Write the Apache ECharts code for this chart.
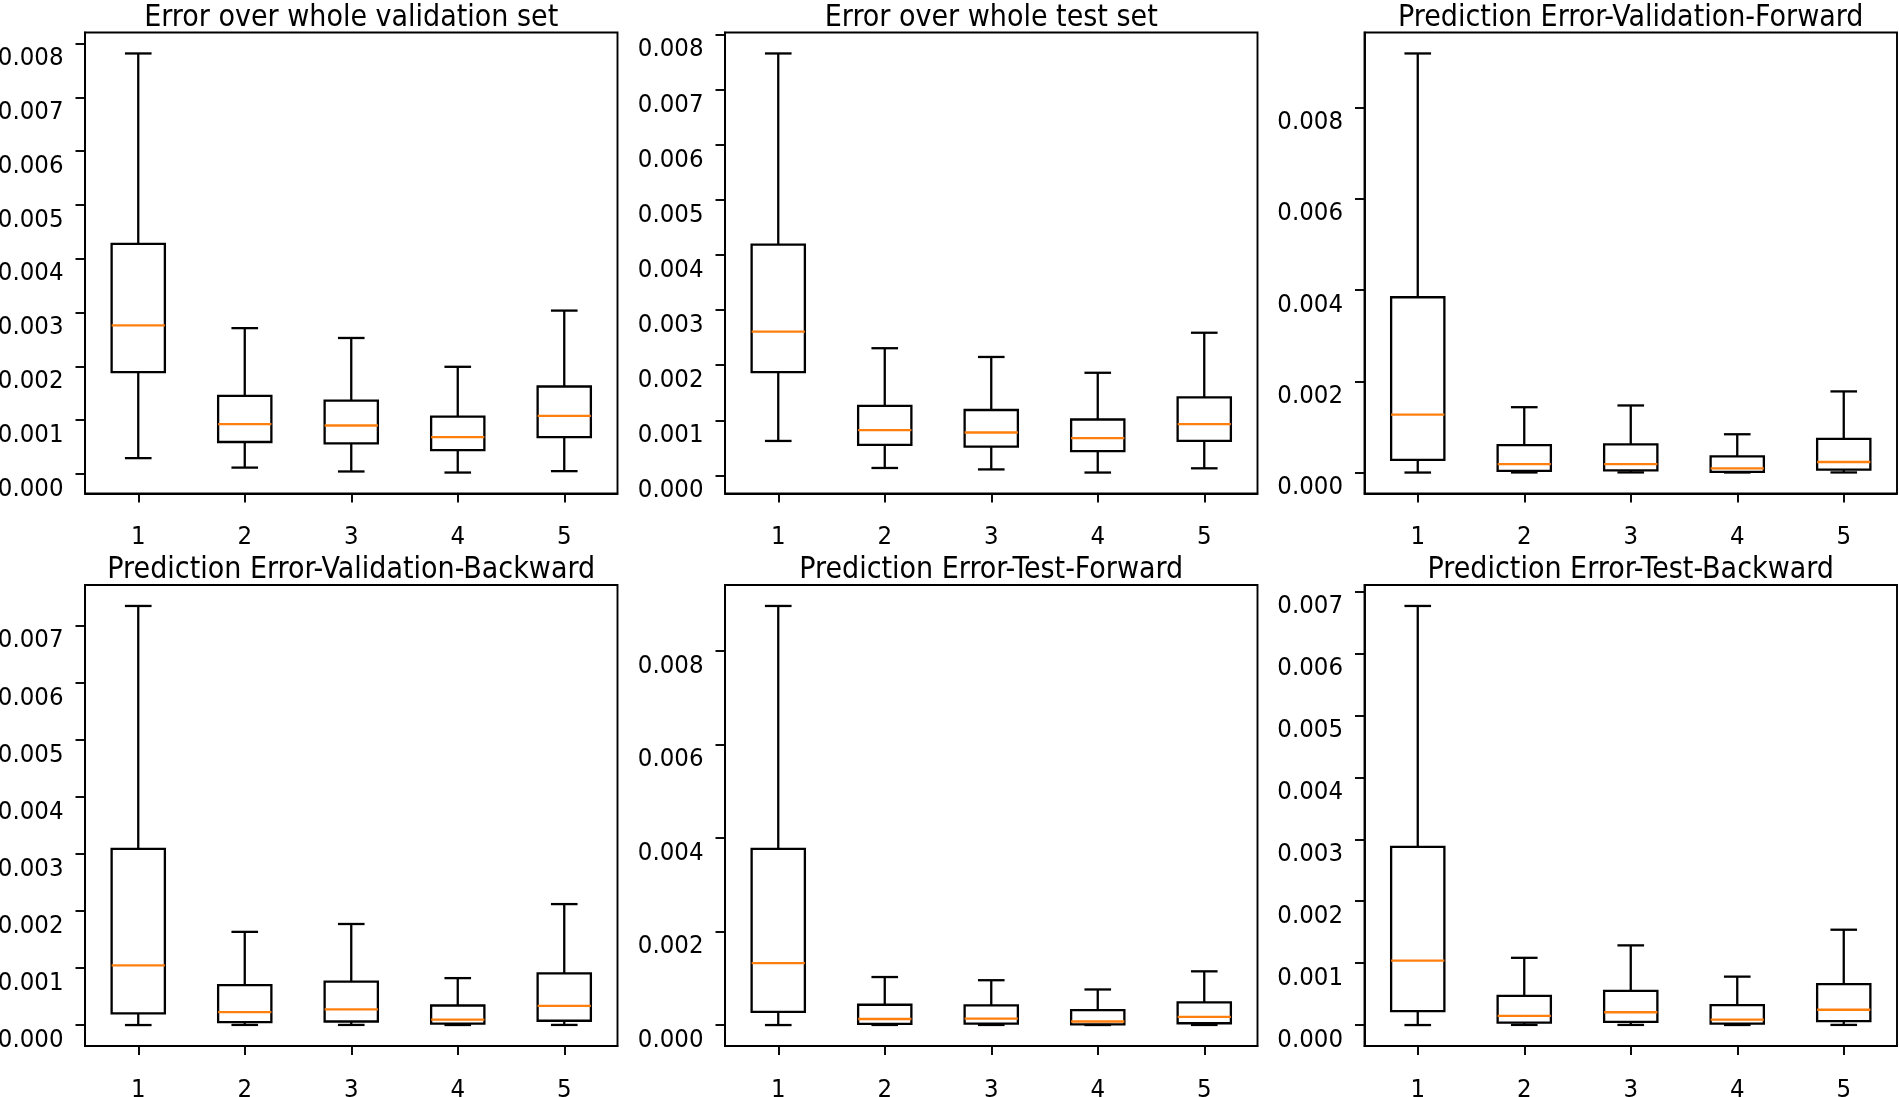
<!DOCTYPE html>
<html>
<head>
<meta charset="utf-8">
<script src="https://cdn.jsdelivr.net/npm/echarts@6/dist/echarts.min.js"></script>
<style>
html,body{margin:0;padding:0;background:#fff;}
#c{width:1899px;height:1097px;}
</style>
</head>
<body>
<div id="c"></div>
<script>
// ---------------- data ----------------
const categories = ['1', '2', '3', '4', '5'];

const panelTitles = [
  'Error over whole validation set',
  'Error over whole test set',
  'Prediction Error-Validation-Forward',
  'Prediction Error-Validation-Backward',
  'Prediction Error-Test-Forward',
  'Prediction Error-Test-Backward'
];

// each box: [whiskerLow, Q1, median, Q3, whiskerHigh]
const boxesValWhole = [
  [0.000294, 0.001894, 0.002763, 0.004278, 0.007818],
  [0.000118, 0.000594, 0.000928, 0.001450, 0.002711],
  [0.000046, 0.000568, 0.000901, 0.001365, 0.002528],
  [0.000026, 0.000444, 0.000686, 0.001065, 0.001992],
  [0.000052, 0.000686, 0.001078, 0.001626, 0.003037]
];
const boxesTestWhole = [
  [0.000625, 0.001876, 0.002609, 0.004191, 0.007662],
  [0.000134, 0.000555, 0.000823, 0.001263, 0.002309],
  [0.000108, 0.000523, 0.000778, 0.001187, 0.002150],
  [0.000051, 0.000440, 0.000676, 0.001014, 0.001863],
  [0.000128, 0.000625, 0.000931, 0.001416, 0.002590]
];
const boxesValForward = [
  [0.000000, 0.000277, 0.001270, 0.003841, 0.009184],
  [0.000002, 0.000038, 0.000185, 0.000600, 0.001432],
  [0.000003, 0.000046, 0.000185, 0.000616, 0.001470],
  [0.000001, 0.000015, 0.000092, 0.000354, 0.000839],
  [0.000002, 0.000062, 0.000231, 0.000739, 0.001778]
];
const boxesValBackward = [
  [0.000000, 0.000206, 0.001048, 0.003088, 0.007349],
  [0.000002, 0.000050, 0.000225, 0.000699, 0.001634],
  [0.000002, 0.000062, 0.000274, 0.000761, 0.001772],
  [0.000001, 0.000025, 0.000094, 0.000343, 0.000823],
  [0.000002, 0.000075, 0.000337, 0.000905, 0.002121]
];
const boxesTestForward = [
  [0.000000, 0.000282, 0.001324, 0.003767, 0.008965],
  [0.000002, 0.000023, 0.000129, 0.000434, 0.001027],
  [0.000002, 0.000030, 0.000137, 0.000419, 0.000959],
  [0.000001, 0.000015, 0.000076, 0.000320, 0.000761],
  [0.000002, 0.000038, 0.000175, 0.000487, 0.001149]
];
const boxesTestBackward = [
  [0.000000, 0.000224, 0.001040, 0.002879, 0.006770],
  [0.000002, 0.000040, 0.000149, 0.000471, 0.001086],
  [0.000002, 0.000052, 0.000207, 0.000552, 0.001287],
  [0.000001, 0.000023, 0.000086, 0.000322, 0.000782],
  [0.000002, 0.000063, 0.000247, 0.000661, 0.001540]
];

const ticksValWhole     = [0, 0.001, 0.002, 0.003, 0.004, 0.005, 0.006, 0.007, 0.008];
const ticksTestWhole    = [0, 0.001, 0.002, 0.003, 0.004, 0.005, 0.006, 0.007, 0.008];
const ticksValForward   = [0, 0.002, 0.004, 0.006, 0.008];
const ticksValBackward  = [0, 0.001, 0.002, 0.003, 0.004, 0.005, 0.006, 0.007];
const ticksTestForward  = [0, 0.002, 0.004, 0.006, 0.008];
const ticksTestBackward = [0, 0.001, 0.002, 0.003, 0.004, 0.005, 0.006, 0.007];

// ---------------- layout / style ----------------
const panelBoxes = [boxesValWhole, boxesTestWhole, boxesValForward, boxesValBackward, boxesTestForward, boxesTestBackward];
const panelTicks = [ticksValWhole, ticksTestWhole, ticksValForward, ticksValBackward, ticksTestForward, ticksTestBackward];

const colLefts = [85, 725, 1364.5];
const rowTops = [32.5, 585];
const gridW = 532.5;
const gridH = 461;
const FONT = '"DejaVu Sans Condensed", "DejaVu Sans", sans-serif';
const INK = '#000000';
const MEDIAN = '#ff7f0e';
const LW = 2.3;
const SPINE = 1.9;

const grids = [], xAxes = [], yAxes = [], titles = [], series = [];

panelBoxes.forEach((boxes, i) => {
  const col = i % 3, row = Math.floor(i / 3);
  const left = colLefts[col], top = rowTops[row];
  grids.push({
    left: left, top: top, width: gridW, height: gridH,
    containLabel: false, outerBoundsMode: 'none',
    show: true, borderColor: INK, borderWidth: SPINE, backgroundColor: '#ffffff'
  });
  titles.push({
    text: panelTitles[i],
    left: left + gridW / 2,
    top: top - 29.5,
    textAlign: 'center',
    padding: 0,
    textStyle: { fontFamily: FONT, fontSize: 30, fontWeight: 'normal', color: INK }
  });
  // matplotlib-style 5% margins around data range
  let dMin = Infinity, dMax = -Infinity;
  boxes.forEach(b => { dMin = Math.min(dMin, b[0]); dMax = Math.max(dMax, b[4]); });
  const pad = (dMax - dMin) * 0.05;
  xAxes.push({
    type: 'category', gridIndex: i, data: categories, boundaryGap: true,
    axisLine: { show: true, onZero: false, lineStyle: { color: INK, width: SPINE } },
    axisTick: { show: true, alignWithLabel: true, length: 9, lineStyle: { color: INK, width: SPINE } },
    axisLabel: { color: INK, fontFamily: FONT, fontSize: 25.5, margin: 31 },
    splitLine: { show: false }
  });
  yAxes.push({
    type: 'value', gridIndex: i, min: dMin - pad, max: dMax + pad,
    axisLine: { show: true, lineStyle: { color: INK, width: SPINE } },
    axisTick: { show: true, length: 9.5, customValues: panelTicks[i], lineStyle: { color: INK, width: SPINE } },
    axisLabel: {
      color: INK, fontFamily: FONT, fontSize: 25.5, margin: 21.5,
      customValues: panelTicks[i],
      verticalAlign: 'top',
      lineHeight: 30,
      formatter: v => Number(v).toFixed(3)
    },
    splitLine: { show: false }
  });
  series.push({
    type: 'custom',
    xAxisIndex: i, yAxisIndex: i,
    encode: { x: 0, y: [1, 2, 3, 4, 5] },
    data: boxes.map((b, k) => [k, b[0], b[1], b[2], b[3], b[4]]),
    renderItem: function (params, api) {
      const x = api.value(0);
      const pLow = api.coord([x, api.value(1)]);
      const pQ1 = api.coord([x, api.value(2)]);
      const pMed = api.coord([x, api.value(3)]);
      const pQ3 = api.coord([x, api.value(4)]);
      const pHigh = api.coord([x, api.value(5)]);
      const band = api.size([1, 0])[0];
      const hb = band * 0.25;
      const hc = hb / 2;
      const cx = pMed[0];
      const ls = { stroke: INK, lineWidth: LW, fill: 'none' };
      return {
        type: 'group',
        children: [
          { type: 'line', shape: { x1: cx, y1: pQ3[1], x2: cx, y2: pHigh[1] }, style: ls },
          { type: 'line', shape: { x1: cx, y1: pLow[1], x2: cx, y2: pQ1[1] }, style: ls },
          { type: 'line', shape: { x1: cx - hc, y1: pHigh[1], x2: cx + hc, y2: pHigh[1] }, style: ls },
          { type: 'line', shape: { x1: cx - hc, y1: pLow[1], x2: cx + hc, y2: pLow[1] }, style: ls },
          { type: 'rect', shape: { x: cx - hb, y: pQ3[1], width: 2 * hb, height: pQ1[1] - pQ3[1] }, style: ls },
          { type: 'line', shape: { x1: cx - hb, y1: pMed[1], x2: cx + hb, y2: pMed[1] }, style: { stroke: MEDIAN, lineWidth: LW } }
        ]
      };
    },
    z: 3
  });
});

const chart = echarts.init(document.getElementById('c'), null, { renderer: 'canvas' });
chart.setOption({
  animation: false,
  backgroundColor: '#ffffff',
  title: titles,
  grid: grids,
  xAxis: xAxes,
  yAxis: yAxes,
  series: series
});
</script>
</body>
</html>
